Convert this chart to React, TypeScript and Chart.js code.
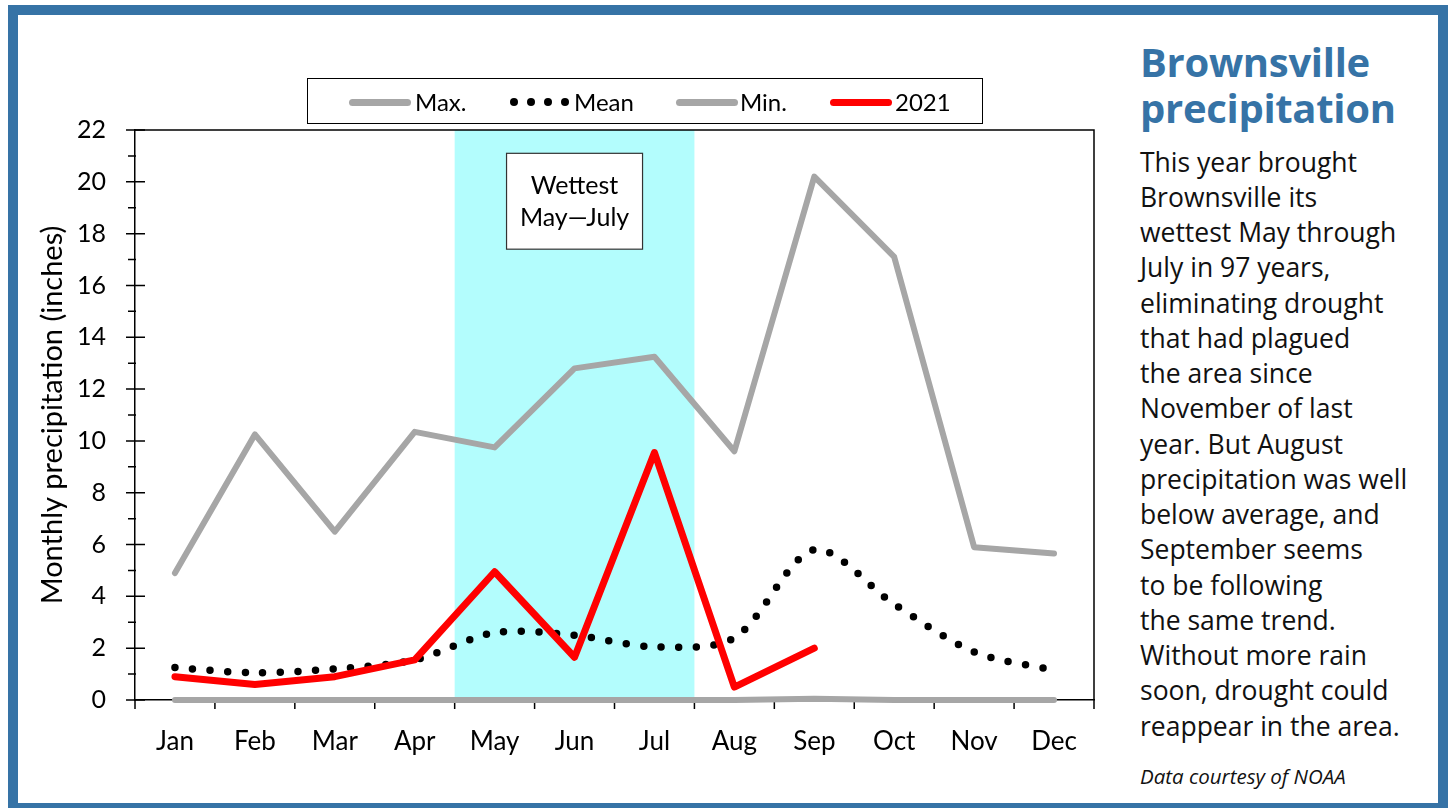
import React, { useEffect, useRef } from 'react';
import { Chart, registerables } from 'chart.js';

Chart.register(...registerables);

// ---------- data ----------
const months = ['Jan', 'Feb', 'Mar', 'Apr', 'May', 'Jun', 'Jul', 'Aug', 'Sep', 'Oct', 'Nov', 'Dec'];
const maxValues = [4.9, 10.25, 6.5, 10.35, 9.75, 12.8, 13.25, 9.6, 20.2, 17.1, 5.9, 5.65];
const meanValues = [1.25, 1.05, 1.2, 1.55, 2.6, 2.5, 2.05, 2.4, 5.8, 3.7, 1.85, 1.15];
const minValues = [0, 0, 0, 0, 0, 0, 0, 0, 0.05, 0, 0, 0];
const values2021 = [0.9, 0.6, 0.9, 1.55, 4.95, 1.65, 9.55, 0.5, 2.0, null, null, null];

const yMin = 0;
const yMax = 22;
const yStep = 2;

const wetStartIndex = 4; // May
const wetEndIndex = 6; // Jul
const noteLines = ['Wettest', 'May\u2014July'];
const noteCenterIndex = 5;
const noteTopValue = 21.1;
const noteBottomValue = 17.4;

const legendLabels = ['Max.', 'Mean', 'Min.', '2021'];
const yTitle = 'Monthly precipitation (inches)';

const headline = ['Brownsville', 'precipitation'];
const bodyLines = [
  'This year brought',
  'Brownsville its',
  'wettest May through',
  'July in 97 years,',
  'eliminating drought',
  'that had plagued',
  'the area since',
  'November of last',
  'year. But August',
  'precipitation was well',
  'below average, and',
  'September seems',
  'to be following',
  'the same trend.',
  'Without more rain',
  'soon, drought could',
  'reappear in the area.',
];
const credit = 'Data courtesy of NOAA';

// ---------- styles ----------
const GREY = '#a6a6a6';
const RED = '#ff0000';
const BAND = '#b3fdfd';
const BLUE = '#3673a6';
const CHART_FONT = 'Lato';

const decorPlugin = {
  id: 'decor',
  beforeDatasetsDraw(chart: any) {
    const { ctx, chartArea: ca, scales } = chart;
    const x = scales.x;
    const y = scales.y;
    const cw = x.getPixelForValue(1) - x.getPixelForValue(0);
    ctx.save();
    // highlight band
    const l = x.getPixelForValue(wetStartIndex) - cw / 2;
    const r = x.getPixelForValue(wetEndIndex) + cw / 2;
    ctx.fillStyle = BAND;
    ctx.fillRect(l, ca.top, r - l, ca.bottom - ca.top);
    // frame top and right
    ctx.strokeStyle = '#000';
    ctx.lineWidth = 1.5;
    ctx.beginPath();
    ctx.moveTo(ca.left, ca.top);
    ctx.lineTo(ca.right, ca.top);
    ctx.lineTo(ca.right, ca.bottom);
    ctx.stroke();
    // y ticks
    ctx.beginPath();
    for (let v = yMin; v <= yMax; v += yStep) {
      const py = y.getPixelForValue(v);
      ctx.moveTo(ca.left - 9, py);
      ctx.lineTo(ca.left + 10, py);
      if (v + yStep / 2 <= yMax) {
        const pm = y.getPixelForValue(v + yStep / 2);
        ctx.moveTo(ca.left - 7, pm);
        ctx.lineTo(ca.left + 1, pm);
      }
    }
    // x ticks at category boundaries
    for (let i = 0; i <= months.length; i++) {
      const px = x.getPixelForValue(0) - cw / 2 + i * cw;
      ctx.moveTo(px, ca.bottom);
      ctx.lineTo(px, ca.bottom + 9);
    }
    ctx.stroke();
    ctx.restore();
  },
  afterDatasetsDraw(chart: any) {
    const { ctx, scales } = chart;
    const x = scales.x;
    const y = scales.y;
    const cx = x.getPixelForValue(noteCenterIndex);
    const top = y.getPixelForValue(noteTopValue);
    const bottom = y.getPixelForValue(noteBottomValue);
    const w = 136;
    const h = bottom - top;
    ctx.save();
    ctx.fillStyle = '#fff';
    ctx.fillRect(cx - w / 2, top, w, h);
    ctx.strokeStyle = '#333';
    ctx.lineWidth = 1.2;
    ctx.strokeRect(cx - w / 2, top, w, h);
    ctx.fillStyle = '#000';
    ctx.font = `25px ${CHART_FONT}`;
    ctx.textAlign = 'center';
    ctx.textBaseline = 'middle';
    ctx.fillText(noteLines[0], cx, top + h * 0.34);
    ctx.fillText(noteLines[1], cx, top + h * 0.67);
    ctx.restore();
  },
};

function ChartCanvas() {
  const ref = useRef<HTMLCanvasElement | null>(null);
  useEffect(() => {
    let chart: Chart | null = null;
    let cancelled = false;
    const make = () => {
      if (cancelled || !ref.current) return;
      chart = new Chart(ref.current, {
        type: 'line',
        data: {
          labels: months,
          datasets: [
            {
              label: legendLabels[0],
              data: maxValues,
              borderColor: GREY,
              borderWidth: 6,
              borderCapStyle: 'round',
              borderJoinStyle: 'round',
              pointRadius: 0,
              tension: 0,
              clip: 10,
              order: 2,
            },
            {
              label: legendLabels[1],
              data: meanValues,
              borderColor: '#000',
              borderWidth: 7.5,
              borderDash: [0, 17.6],
              borderCapStyle: 'round',
              pointRadius: 0,
              tension: 0.3,
              clip: 10,
              order: 1,
            },
            {
              label: legendLabels[2],
              data: minValues,
              borderColor: GREY,
              borderWidth: 6,
              borderCapStyle: 'round',
              borderJoinStyle: 'round',
              pointRadius: 0,
              tension: 0,
              clip: 10,
              order: 3,
            },
            {
              label: legendLabels[3],
              data: values2021,
              borderColor: RED,
              borderWidth: 7,
              borderCapStyle: 'round',
              borderJoinStyle: 'round',
              pointRadius: 0,
              tension: 0,
              spanGaps: false,
              clip: 10,
              order: 0,
            },
          ] as any,
        },
        options: {
          responsive: false,
          animation: false,
          devicePixelRatio: 1,
          layout: { padding: { left: 15, top: 115, right: 14, bottom: 43 } },
          plugins: { legend: { display: false }, tooltip: { enabled: false } },
          scales: {
            x: {
              type: 'category',
              offset: true,
              grid: { display: false, drawTicks: false },
              border: { display: true, color: '#000', width: 1.5 },
              ticks: { color: '#000', font: { family: CHART_FONT, size: 26 }, padding: 26, maxRotation: 0, autoSkip: false },
              afterFit: (s: any) => { s.height = 60; },
            },
            y: {
              min: yMin,
              max: yMax,
              grid: { display: false, drawTicks: false },
              border: { display: true, color: '#000', width: 1.5 },
              ticks: { stepSize: yStep, color: '#000', font: { family: CHART_FONT, size: 25 }, padding: 29 },
              title: { display: true, text: yTitle, color: '#000', font: { family: CHART_FONT, size: 29 }, padding: { top: 2, bottom: 0 } },
              afterFit: (s: any) => { s.width = 102; },
            },
          },
        },
        plugins: [decorPlugin],
      });
    };
    const fonts: any = (document as any).fonts;
    if (fonts && fonts.load) {
      Promise.all([fonts.load(`25px ${CHART_FONT}`), fonts.load('26px "Open Sans"')]).then(make, make);
    } else {
      make();
    }
    return () => {
      cancelled = true;
      if (chart) chart.destroy();
    };
  }, []);
  return (
    <canvas
      ref={ref}
      width={1090}
      height={788}
      style={{ position: 'absolute', left: 18, top: 15, width: 1090, height: 788 }}
    />
  );
}

function Legend() {
  const textStyle: React.CSSProperties = {
    position: 'absolute',
    top: 0,
    height: 46,
    lineHeight: '46px',
    fontFamily: CHART_FONT,
    fontSize: 24,
    color: '#000',
    whiteSpace: 'nowrap',
  };
  const line = (left: number, color: string): React.CSSProperties => ({
    position: 'absolute',
    left,
    top: 19.5,
    width: 62,
    height: 7,
    borderRadius: 4,
    background: color,
  });
  const dot = (left: number): React.CSSProperties => ({
    position: 'absolute',
    left: left - 4,
    top: 19,
    width: 8,
    height: 8,
    borderRadius: 4,
    background: '#000',
  });
  const o = 307;
  return (
    <div
      style={{
        position: 'absolute',
        left: o,
        top: 78,
        width: 676,
        height: 46,
        border: '1.5px solid #000',
        boxSizing: 'border-box',
        background: '#fff',
      }}
    >
      <div style={line(348 - o, GREY)} />
      <div style={{ ...textStyle, left: 414 - o }}>{legendLabels[0]}</div>
      <div style={dot(512.5 - o)} />
      <div style={dot(529.6 - o)} />
      <div style={dot(546.8 - o)} />
      <div style={dot(564 - o)} />
      <div style={{ ...textStyle, left: 573 - o }}>{legendLabels[1]}</div>
      <div style={line(675 - o, GREY)} />
      <div style={{ ...textStyle, left: 739 - o }}>{legendLabels[2]}</div>
      <div style={line(829 - o, RED)} />
      <div style={{ ...textStyle, left: 894 - o }}>{legendLabels[3]}</div>
    </div>
  );
}

function SideText() {
  return (
    <div style={{ position: 'absolute', left: 1140, top: 0, width: 300 }}>
      <div
        style={{
          position: 'absolute',
          top: 39,
          left: 0,
          fontFamily: '"Open Sans"',
          fontWeight: 700,
          fontSize: 40,
          letterSpacing: -0.3,
          lineHeight: '46px',
          color: BLUE,
          whiteSpace: 'nowrap',
        }}
      >
        {headline.map((t, i) => (
          <div key={i}>{t}</div>
        ))}
      </div>
      <div
        style={{
          position: 'absolute',
          top: 144.5,
          left: 0,
          fontFamily: '"Open Sans"',
          fontSize: 26.5,
          lineHeight: '35.25px',
          color: '#111',
          whiteSpace: 'nowrap',
        }}
      >
        {bodyLines.map((t, i) => (
          <div key={i}>{t}</div>
        ))}
      </div>
      <div
        style={{
          position: 'absolute',
          top: 765,
          left: 0,
          fontFamily: '"Open Sans"',
          fontStyle: 'italic',
          fontSize: 20.5,
          lineHeight: '22px',
          color: '#111',
          whiteSpace: 'nowrap',
        }}
      >
        {credit}
      </div>
    </div>
  );
}

export default function App() {
  return (
    <div style={{ position: 'fixed', left: 0, top: 0, width: 1453, height: 808, overflow: 'hidden', background: '#fff' }}>
      <div
        style={{
          position: 'absolute',
          left: 8,
          top: 5,
          width: 1440,
          height: 808,
          border: `10.5px solid ${BLUE}`,
          boxSizing: 'border-box',
          background: '#fff',
        }}
      />
      <ChartCanvas />
      <Legend />
      <SideText />
    </div>
  );
}
